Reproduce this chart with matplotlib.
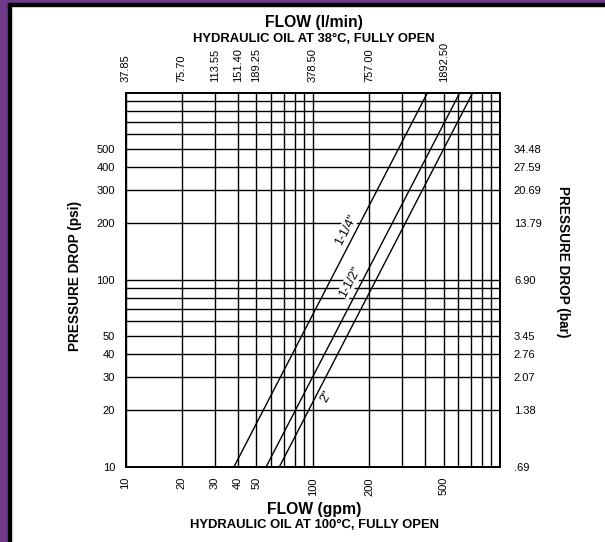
import matplotlib
matplotlib.use("Agg")
import matplotlib.pyplot as plt
from matplotlib import font_manager
from matplotlib.ticker import FixedLocator, NullFormatter, NullLocator
from matplotlib.patches import Rectangle

# ---------------- data ----------------
gpm_ticks = [10, 20, 30, 40, 50, 100, 200, 500]
gpm_minor = [60, 70, 80, 90, 300, 400, 600, 700, 800, 900]
lpm_labels = ['37.85', '75.70', '113.55', '151.40', '189.25', '378.50', '757.00', '1892.50']
psi_ticks = [10, 20, 30, 40, 50, 100, 200, 300, 400, 500]
psi_minor = [60, 70, 80, 90, 600, 700, 800, 900]
bar_labels = ['.69', '1.38', '2.07', '2.76', '3.45', '6.90', '13.79', '20.69', '27.59', '34.48']

sizes = ['1-1/4"', '1-1/2"', '2"']
flow_gpm = [[38.0, 410.0], [56.4, 610.0], [66.4, 715.0]]
drop_psi = [[10.0, 1000.0], [10.0, 1000.0], [10.0, 1000.0]]
label_flow = [150, 159, 118]
label_psi = [185, 97.5, 23.6]

# ---------------- fonts ----------------
avail = {f.name for f in font_manager.fontManager.ttflist}
narrow = 'Liberation Sans Narrow' if 'Liberation Sans Narrow' in avail else 'Liberation Sans'
bold_font = 'Liberation Sans'
plt.rcParams['font.family'] = [narrow, 'DejaVu Sans']

W, H = 605, 542
fig = plt.figure(figsize=(W / 100, H / 100), dpi=100)
fig.patch.set_facecolor('white')

# border: purple + black on left and top
purple = '#703A8A'
fig.patches.append(Rectangle((0, 0), 8 / W, 1, transform=fig.transFigure, color=purple, zorder=0))
fig.patches.append(Rectangle((8 / W, 0), 3 / W, 1 - 3 / H, transform=fig.transFigure, color='black', zorder=0))
fig.patches.append(Rectangle((0, 1 - 3 / H), 1, 3 / H, transform=fig.transFigure, color=purple, zorder=0))
fig.patches.append(Rectangle((8 / W, 1 - 5.7 / H), 1, 2.7 / H, transform=fig.transFigure, color='black', zorder=0))

left, right, top, bottom = 125.5, 500.0, 92.7, 466.7
ax = fig.add_axes([left / W, 1 - bottom / H, (right - left) / W, (bottom - top) / H])
ax.set_xscale('log')
ax.set_yscale('log')
ax.set_xlim(10, 1000)
ax.set_ylim(10, 1000)

ax.xaxis.set_major_locator(FixedLocator(gpm_ticks))
ax.xaxis.set_minor_locator(FixedLocator(gpm_minor))
ax.xaxis.set_minor_formatter(NullFormatter())
ax.set_xticklabels([str(v) for v in gpm_ticks], rotation=90, fontsize=8)
ax.yaxis.set_major_locator(FixedLocator(psi_ticks))
ax.yaxis.set_minor_locator(FixedLocator(psi_minor))
ax.yaxis.set_minor_formatter(NullFormatter())
ax.set_yticklabels([str(v) for v in psi_ticks], fontsize=8)
ax.tick_params(which='both', length=0)
ax.tick_params(axis='x', pad=7.5)
ax.tick_params(axis='y', pad=7.5)
ax.grid(True, which='both', color='black', linewidth=1.0)
for s in ax.spines.values():
    s.set_linewidth(1.4)

for sz, fx, fy, lx, ly in zip(sizes, flow_gpm, drop_psi, label_flow, label_psi):
    ax.plot(fx, fy, color='black', linewidth=1.0, zorder=3)
    ax.text(lx, ly, sz, rotation=62, rotation_mode='anchor', ha='center', va='center',
            fontsize=9, zorder=4,
            bbox=dict(facecolor='white', edgecolor='none', pad=0.5))

# top axis (l/min)
axt = ax.twiny()
axt.set_xscale('log')
axt.set_xlim(ax.get_xlim())
axt.xaxis.set_major_locator(FixedLocator(gpm_ticks))
axt.xaxis.set_minor_locator(NullLocator())
axt.set_xticklabels(lpm_labels, rotation=90, fontsize=8)
axt.tick_params(which='both', length=0, pad=8)

# right axis (bar)
axr = ax.twinx()
axr.set_yscale('log')
axr.set_ylim(ax.get_ylim())
axr.yaxis.set_major_locator(FixedLocator(psi_ticks))
axr.yaxis.set_minor_locator(NullLocator())
axr.set_yticklabels(bar_labels, fontsize=8)
axr.tick_params(which='both', length=0, pad=10)
for a in (axt, axr):
    for s in a.spines.values():
        s.set_linewidth(1.4)

cx = 314 / W
fig.text(cx, 1 - 23 / H, 'FLOW (l/min)', ha='center', va='center', fontsize=11.3,
         fontweight='bold', family=bold_font)
fig.text(cx, 1 - 38.7 / H, 'HYDRAULIC OIL AT 38°C, FULLY OPEN', ha='center', va='center',
         fontsize=9.4, fontweight='bold', family=bold_font)
fig.text(cx, 1 - 509.7 / H, 'FLOW (gpm)', ha='center', va='center', fontsize=11.3,
         fontweight='bold', family=bold_font)
fig.text(cx, 1 - 525 / H, 'HYDRAULIC OIL AT 100°C, FULLY OPEN', ha='center', va='center',
         fontsize=9.4, fontweight='bold', family=bold_font)
fig.text(75 / W, 1 - 276 / H, 'PRESSURE DROP (psi)', rotation=90, ha='center', va='center',
         fontsize=9.8, fontweight='bold', family=bold_font)
fig.text(562.5 / W, 1 - 262 / H, 'PRESSURE DROP (bar)', rotation=270, ha='center', va='center',
         fontsize=9.8, fontweight='bold', family=bold_font)

fig.savefig('out.png', dpi=100)
